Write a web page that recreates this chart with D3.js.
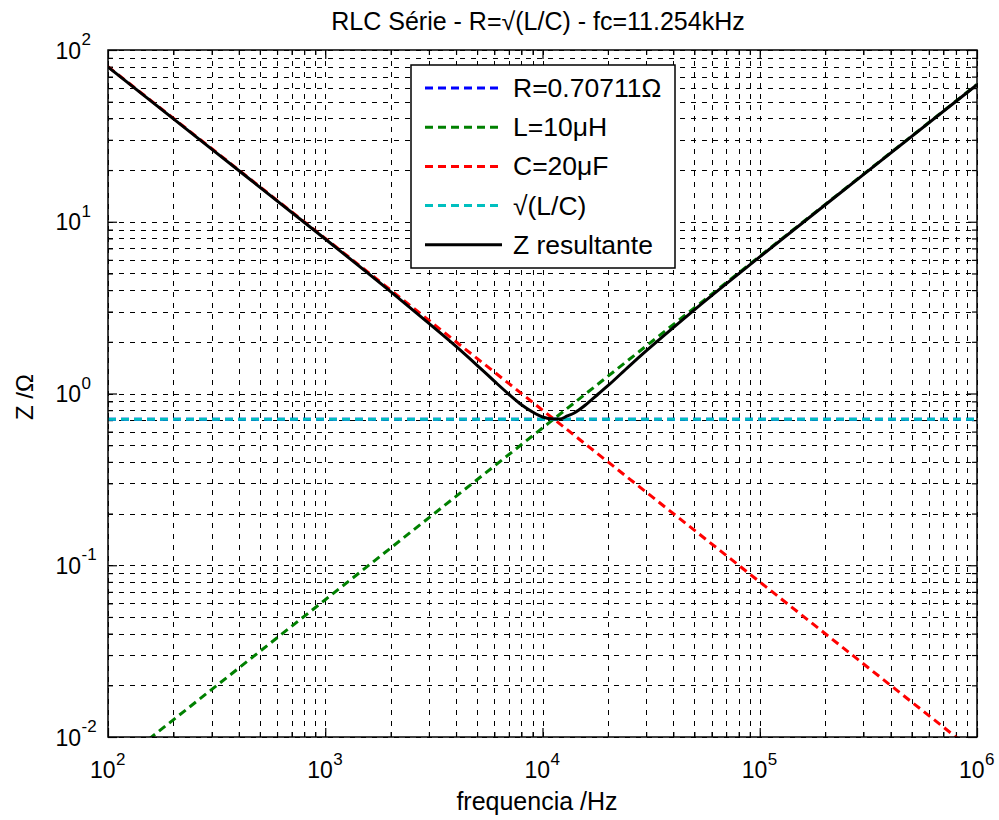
<!DOCTYPE html>
<html>
<head>
<meta charset="utf-8">
<script src="https://cdn.jsdelivr.net/npm/d3@7"></script>
<style>
  body { margin: 0; background: #fff; }
  svg { font-family: "Liberation Sans", Arial, sans-serif; }
</style>
</head>
<body>
<div id="chart"></div>
<script>
// values
const freqs = [100, 1000, 10000, 100000, 1000000];
const zR = [0.70711, 0.70711, 0.70711, 0.70711, 0.70711];
const zL = [0.0063, 0.063, 0.63, 6.3, 63];
const zC = [80, 8.0, 0.80, 0.080, 0.0080];
const zSqrt = [0.70711, 0.70711, 0.70711, 0.70711, 0.70711];

const freqsZ = [100, 300, 1000, 2000, 3000, 4000, 5000, 6000, 7000, 8000, 9000, 10000, 11254,
                12000, 13000, 14000, 16000, 18000, 20000, 25000, 30000, 40000, 50000, 100000, 300000, 1000000];
const zTotal = [79.6, 26.5, 7.93, 3.92, 2.56, 1.88, 1.46, 1.18, 0.99, 0.86, 0.78, 0.73, 0.71,
                0.71, 0.74, 0.77, 0.87, 0.99, 1.11, 1.44, 1.77, 2.42, 3.07, 6.24, 18.8, 62.8];

const legendLabels = ["R=0.70711Ω", "L=10μH", "C=20μF", "√(L/C)", "Z resultante"];
const colors = ["#0000ff", "#008000", "#ff0000", "#00bfbf", "#000000"];

const xExponents = [2, 3, 4, 5, 6];
const yExponents = [-2, -1, 0, 1, 2];

const width = 999, height = 820;
const margin = {top: 50, right: 22, bottom: 83, left: 108};
const plotW = width - margin.left - margin.right;
const plotH = height - margin.top - margin.bottom;

let svg = d3.select("#chart")
    .append("svg")
    .attr("width", width)
    .attr("height", height);

let x = d3.scaleLog().domain([1e2, 1e6]).range([0, plotW]);
let y = d3.scaleLog().domain([1e-2, 1e2]).range([plotH, 0]);

let g = svg.append("g")
    .attr("transform", `translate(${margin.left}, ${margin.top})`);

svg.append("defs").append("clipPath").attr("id", "clip")
    .append("rect").attr("width", plotW).attr("height", plotH);

let xMajor = xExponents.map(e => Math.pow(10, e));
let yMajor = yExponents.map(e => Math.pow(10, e));
let xMinor = [], yMinor = [];
xExponents.slice(0, -1).forEach(e => { for (let k = 2; k <= 9; k++) xMinor.push(k * Math.pow(10, e)); });
yExponents.slice(0, -1).forEach(e => { for (let k = 2; k <= 9; k++) yMinor.push(k * Math.pow(10, e)); });

// grid
let grid = g.append("g").attr("stroke", "#000").attr("stroke-width", 1).attr("stroke-dasharray", "5,6");
grid.selectAll("line.gx").data(xMajor.concat(xMinor)).enter().append("line")
    .attr("x1", d => Math.round(x(d)) + 0.5).attr("x2", d => Math.round(x(d)) + 0.5)
    .attr("y1", 0).attr("y2", plotH);
grid.selectAll("line.gy").data(yMajor.concat(yMinor)).enter().append("line")
    .attr("y1", d => Math.round(y(d)) + 0.5).attr("y2", d => Math.round(y(d)) + 0.5)
    .attr("x1", 0).attr("x2", plotW);

// ticks on all four sides, pointing inward
function ticks(axisFn, scale, vals, size, tr) {
    let a = g.append("g").attr("transform", tr)
        .call(axisFn(scale).tickValues(vals).tickSize(size).tickFormat(""));
    a.select(".domain").remove();
    a.selectAll("line").attr("stroke-width", 1.2);
}
ticks(d3.axisBottom, x, xMajor, -9, `translate(0,${plotH})`);
ticks(d3.axisBottom, x, xMinor, -5, `translate(0,${plotH})`);
ticks(d3.axisTop, x, xMajor, -9, "translate(0,0)");
ticks(d3.axisTop, x, xMinor, -5, "translate(0,0)");
ticks(d3.axisLeft, y, yMajor, -9, "translate(0,0)");
ticks(d3.axisLeft, y, yMinor, -5, "translate(0,0)");
ticks(d3.axisRight, y, yMajor, -9, `translate(${plotW},0)`);
ticks(d3.axisRight, y, yMinor, -5, `translate(${plotW},0)`);

// curves
let lines = g.append("g").attr("clip-path", "url(#clip)");
let line = d3.line().x(d => x(d[0])).y(d => y(d[1]));
let series = [zR, zL, zC, zSqrt].map(vals => freqs.map((f, i) => [f, vals[i]]));
series.forEach((s, i) => {
    lines.append("path").datum(s)
        .attr("d", line)
        .attr("fill", "none")
        .attr("stroke", colors[i])
        .attr("stroke-width", 3)
        .attr("stroke-dasharray", "8,5");
});
lines.append("path").datum(freqsZ.map((f, i) => [f, zTotal[i]]))
    .attr("d", line.curve(d3.curveMonotoneX))
    .attr("fill", "none")
    .attr("stroke", colors[4])
    .attr("stroke-width", 3);

// box
g.append("rect").attr("width", plotW).attr("height", plotH)
    .attr("fill", "none").attr("stroke", "#000").attr("stroke-width", 1.5);

// tick labels
xExponents.forEach(e => {
    g.append("text")
        .attr("x", x(Math.pow(10, e)) + 7.5)
        .attr("y", plotH + 41)
        .style("font-size", "23px")
        .attr("text-anchor", "end")
        .text("10");
    g.append("text")
        .attr("x", x(Math.pow(10, e)) + 8)
        .attr("y", plotH + 28)
        .style("font-size", "17px")
        .text(e);
});
yExponents.forEach(e => {
    g.append("text")
        .attr("x", -27)
        .attr("y", y(Math.pow(10, e)) + 8.5)
        .style("font-size", "23px")
        .attr("text-anchor", "end")
        .text("10");
    g.append("text")
        .attr("x", -26.5)
        .attr("y", y(Math.pow(10, e)) - 5)
        .style("font-size", "17px")
        .text(e);
});

// title + axis labels
svg.append("text")
    .attr("x", 538).attr("y", 30)
    .style("text-anchor", "middle")
    .style("font-size", "25px")
    .text("RLC Série - R=√(L/C) - fc=11.254kHz");

svg.append("text")
    .attr("x", 537).attr("y", 810)
    .style("text-anchor", "middle")
    .style("font-size", "25px")
    .text("frequencia /Hz");

svg.append("text")
    .attr("transform", "translate(33, 397) rotate(-90)")
    .style("text-anchor", "middle")
    .style("font-size", "24px")
    .text("Z /Ω");

// legend
let leg = svg.append("g").attr("transform", "translate(411, 65)");
leg.append("rect").attr("width", 264).attr("height", 203)
    .attr("fill", "#fff").attr("stroke", "#000").attr("stroke-width", 1.5);
legendLabels.forEach((lab, i) => {
    let yy = 23 + i * 39.2;
    leg.append("line")
        .attr("x1", 14).attr("x2", 91)
        .attr("y1", yy).attr("y2", yy)
        .attr("stroke", colors[i])
        .attr("stroke-width", 3)
        .attr("stroke-dasharray", i < 4 ? "8,5" : null);
    leg.append("text")
        .attr("x", 102).attr("y", yy + 9)
        .style("font-size", "26.5px")
        .text(lab);
});
</script>
</body>
</html>
